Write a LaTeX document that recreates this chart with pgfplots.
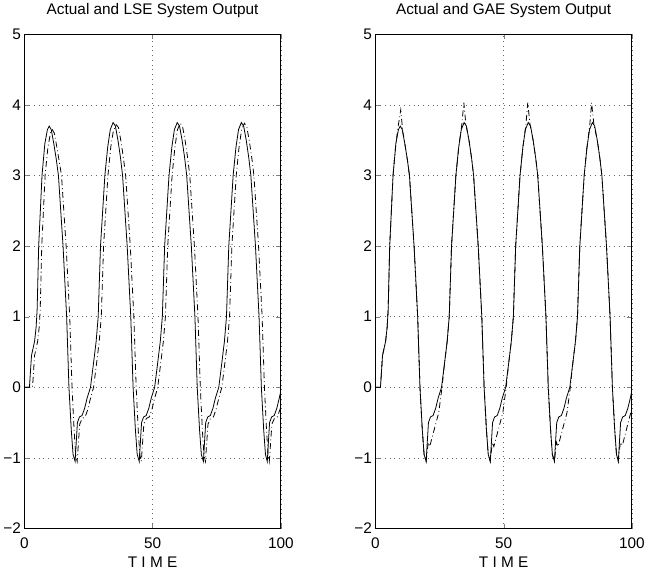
\documentclass[border=0pt]{standalone}
\usepackage{fontspec}
\setmainfont{Liberation Sans}
\usepackage{pgfplots}
\pgfplotsset{compat=1.18}

% actual system output (solid), shared by both panels
\newcommand{\actual}{
(0,0)(2,0)(2.8,0.45)(4,0.65)(4.6,0.85)(5,1.1)(5.6,2.0)(6.9,3.0)(8,3.45)(9,3.65)(9.7,3.7)(10.5,3.65)(11.5,3.45)(12.5,3.22)(13.3,3.0)(15.1,2.0)(16.5,1.0)(17.4,0.0)(18.3,-0.6)(19,-0.95)(19.8,-1.05)(20.7,-0.5)(21.5,-0.42)(22.5,-0.4)(23.5,-0.3)(24.5,-0.15)(25.8,0)(27,0.35)(28,0.65)(28.8,1.0)(29.7,2.0)(31.4,3.0)(32.5,3.4)(33.5,3.65)(34.6,3.75)
(35.5,3.7)(36.5,3.5)(37.5,3.25)(38.3,3.0)(40.1,2.0)(41.5,1.0)(42.4,0)(43.3,-0.6)(44,-0.95)(44.8,-1.05)(45.7,-0.5)(46.5,-0.42)(47.5,-0.4)(48.5,-0.3)(49.5,-0.15)(50.8,0)(52,0.35)(53,0.65)(53.8,1.0)(54.7,2.0)(56.4,3.0)(57.5,3.4)(58.5,3.65)(59.6,3.75)
(60.5,3.7)(61.5,3.5)(62.5,3.25)(63.3,3.0)(65.1,2.0)(66.5,1.0)(67.4,0)(68.3,-0.6)(69,-0.95)(69.8,-1.05)(70.7,-0.5)(71.5,-0.42)(72.5,-0.4)(73.5,-0.3)(74.5,-0.15)(75.8,0)(77,0.35)(78,0.65)(78.8,1.0)(79.7,2.0)(81.4,3.0)(82.5,3.4)(83.5,3.65)(84.6,3.75)
(85.5,3.7)(86.5,3.5)(87.5,3.25)(88.3,3.0)(90.1,2.0)(91.5,1.0)(92.4,0)(93.3,-0.6)(94,-0.95)(94.7,-1.05)(95.6,-0.5)(96.4,-0.42)(97.4,-0.4)(98.4,-0.3)(99.4,-0.15)(100,-0.05)}

\pgfplotsset{
  mat/.style={
    scale only axis, width=258bp, height=497bp,
    xmin=0, xmax=100, ymin=-2, ymax=5,
    xtick={0,50,100}, ytick={-2,...,5},
    yticklabels={−2,−1,0,1,2,3,4,5},
    tick align=inside, major tick length=5bp,
    axis line style={line width=1.1pt},
    grid=major, grid style={black!60, line width=0.6pt, dash pattern=on 0.8bp off 4bp},
    tick label style={font=\fontsize{15.5}{18}\selectfont},
    /pgf/number format/assume math mode=true,
    xticklabel style={anchor=base, yshift=-20bp},
    title style={font=\fontsize{15.5}{18}\selectfont, at={(0.5,1)}, anchor=base, yshift=14bp},
    xlabel={T I M E},
    xlabel style={font=\fontsize{15.5}{18}\selectfont, at={(0.5,0)}, anchor=base, yshift=-39bp},
  },
  act/.style={black, line width=0.8pt},
  est/.style={black, line width=0.8pt, dash pattern=on 6bp off 3bp on 0.8bp off 3bp},
}

\begin{document}
\begin{tikzpicture}
\begin{axis}[mat, title={Actual and LSE System Output}]
\addplot[act] coordinates {\actual};
\addplot[est] coordinates {
(0,0)(3.2,0)(4.0,0.45)(5.2,0.65)(5.8,0.85)(6.2,1.1)(6.8,2.0)(8.1,3.0)(9.2,3.4)(10.2,3.6)(10.9,3.65)(11.7,3.6)(12.7,3.4)(13.7,3.18)(14.5,3.0)(16.3,2.0)(17.7,1.0)(18.6,0)(19.4,-0.6)(20.0,-0.95)(20.6,-1.05)(21.6,-0.52)(22.6,-0.44)(23.7,-0.42)(24.7,-0.32)(25.7,-0.17)(27.0,0)(28.2,0.35)(29.2,0.65)(30.0,1.0)(30.9,2.0)(32.6,3.0)(33.7,3.4)(34.7,3.63)(35.8,3.72)
(36.7,3.68)(37.7,3.48)(38.7,3.23)(39.5,3.0)(41.3,2.0)(42.7,1.0)(43.6,0)(44.4,-0.6)(45.0,-0.95)(45.6,-1.05)(46.6,-0.52)(47.6,-0.44)(48.7,-0.42)(49.7,-0.32)(50.7,-0.17)(52.0,0)(53.2,0.35)(54.2,0.65)(55.0,1.0)(55.9,2.0)(57.6,3.0)(58.7,3.4)(59.7,3.65)(60.8,3.74)
(61.7,3.69)(62.7,3.49)(63.7,3.24)(64.5,3.0)(66.3,2.0)(67.7,1.0)(68.6,0)(69.4,-0.6)(70.0,-0.95)(70.6,-1.05)(71.6,-0.52)(72.6,-0.44)(73.7,-0.42)(74.7,-0.32)(75.7,-0.17)(77.0,0)(78.2,0.35)(79.2,0.65)(80.0,1.0)(80.9,2.0)(82.6,3.0)(83.7,3.4)(84.7,3.65)(85.8,3.74)
(86.7,3.69)(87.7,3.49)(88.7,3.24)(89.5,3.0)(91.3,2.0)(92.7,1.0)(93.6,0)(94.4,-0.6)(95.0,-0.95)(95.5,-1.05)(96.5,-0.52)(97.5,-0.44)(98.6,-0.42)(99.6,-0.32)(100,-0.28)};
\end{axis}
\begin{axis}[mat, at={(353bp,0)}, title={Actual and GAE System Output}]
\addplot[act] coordinates {\actual};
\addplot[est] coordinates {
(0,0)(2,0)(2.8,0.45)(4,0.65)(4.6,0.85)(5,1.1)(5.6,2.0)(6.9,3.0)(8,3.45)(9,3.72)(9.9,3.93)(10.7,3.62)(11.5,3.45)(12.5,3.22)(13.3,3.0)(15.1,2.0)(16.5,1.0)(17.4,0.0)(18.3,-0.6)(19,-0.95)(19.8,-1.05)(20.6,-0.78)(21.2,-0.84)(22.2,-0.7)(24.7,-0.36)(26.0,0)(27,0.35)(28,0.65)(28.8,1.0)(29.7,2.0)(31.4,3.0)(32.5,3.4)(33.7,3.72)(34.5,4.03)(35.3,3.72)
(36.5,3.5)(37.5,3.25)(38.3,3.0)(40.1,2.0)(41.5,1.0)(42.4,0)(43.3,-0.6)(44,-0.95)(44.8,-1.05)(45.6,-0.78)(46.2,-0.84)(47.2,-0.7)(49.7,-0.36)(51,0)(52,0.35)(53,0.65)(53.8,1.0)(54.7,2.0)(56.4,3.0)(57.5,3.4)(58.7,3.72)(59.4,4.03)(60.3,3.72)
(61.5,3.5)(62.5,3.25)(63.3,3.0)(65.1,2.0)(66.5,1.0)(67.4,0)(68.3,-0.6)(69,-0.95)(69.8,-1.05)(70.6,-0.78)(71.2,-0.84)(72.2,-0.7)(74.7,-0.36)(76,0)(77,0.35)(78,0.65)(78.8,1.0)(79.7,2.0)(81.4,3.0)(82.5,3.4)(83.6,3.72)(84.3,4.03)(85.2,3.72)
(86.5,3.5)(87.5,3.25)(88.3,3.0)(90.1,2.0)(91.5,1.0)(92.4,0)(93.3,-0.6)(94,-0.95)(94.7,-1.05)(95.5,-0.78)(96.3,-0.82)(97.3,-0.68)(98.4,-0.52)(100,-0.3)};
\end{axis}
\end{tikzpicture}
\end{document}
